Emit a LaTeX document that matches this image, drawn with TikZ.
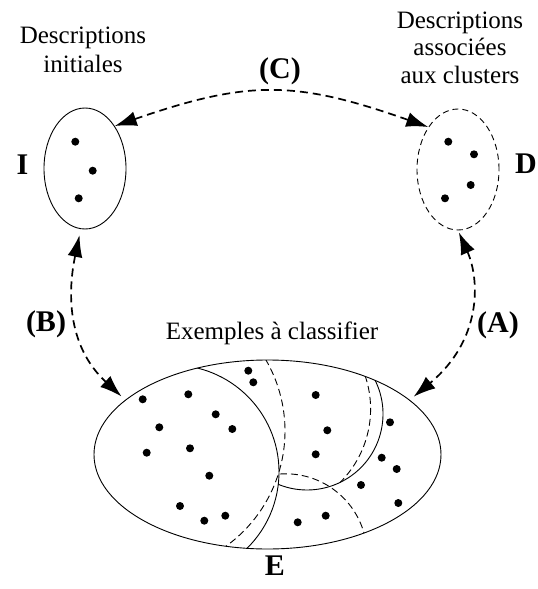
\documentclass[tikz,border=0pt]{standalone}
\usepackage{fontspec}
\setmainfont{Liberation Serif}
\usetikzlibrary{arrows.meta,shapes.geometric}
\begin{document}
\begin{tikzpicture}[x=1pt,y=-1pt,
  set/.style={draw, ellipse, line width=0.9pt, inner sep=0pt,
              minimum width=82pt, minimum height=121pt},
  dot/.style={fill=black},
  lbl/.style={font=\fontsize{25}{29}\selectfont, align=center, inner sep=0pt},
  tag/.style={font=\fontsize{30}{34}\selectfont\bfseries, inner sep=0pt},
  link/.style={line width=1.7pt, dash pattern=on 8pt off 5pt,
               {Latex[length=22pt,width=15pt]}-{Latex[length=22pt,width=15pt]}},
  part/.style={line width=0.9pt},
  partdash/.style={line width=0.9pt, dash pattern=on 7pt off 4pt},
]
\useasboundingbox (0,0) rectangle (538,589);

% the three sets
\node[set] (I) at (85,168.5) {};
\node[set, dash pattern=on 6pt off 4pt] (D) at (458,169.5) {};
\node[draw, ellipse, line width=0.9pt, inner sep=0pt,
      minimum width=347pt, minimum height=189pt] (E) at (267.5,454.5) {};

% partitions of E (solid and dashed cluster borders)
\begin{scope}
  \clip (E.center) ellipse [x radius=173.5, y radius=94.5];
  \draw[part] (172,472) ++(-85:107) arc[start angle=-85, end angle=55, radius=107];
  \draw[part] (307,414) ++(-30:76) arc[start angle=-30, end angle=112.2, radius=76];
  \draw[partdash] (143,431) ++(-35:142) arc[start angle=-35, end angle=60, radius=142];
  \draw[partdash] (267,409) ++(-25:103.6) arc[start angle=-25, end angle=45.1, radius=103.6];
  \draw[partdash] (285.6,555.3) ++(-94:81.5) arc[start angle=-94, end angle=-10, radius=81.5];
\end{scope}

% points
\foreach \p in {(75.3,141.7),(92.7,170.7),(78.7,198.3),
                (448.3,141.7),(474,154.3),(470.7,185),(445,198.3),
                (248.3,370.7),(253.3,382.3),(142.7,399.3),(188.3,394.3),
                (215.7,414.3),(159.3,427.3),(232.3,429),(146.7,452.7),
                (190,448.3),(209.3,475.7),(180,506),(204.3,520.7),(225.3,515.7),
                (315.7,395),(327.3,430.3),(315.7,454.3),(390,422.3),
                (381.7,457.7),(396.7,469),(361,485),(398.3,503),
                (297.7,522.3),(325.7,515.7)}
  \fill[dot] \p circle[radius=4];

% texts (anchored at the baseline of their last line)
\node[lbl, anchor=base] (tI) at (83,72) {Descriptions\\initiales};
\node[lbl, font=\fontsize{25}{27.5}\selectfont, anchor=base] (tD) at (460,83)
  {Descriptions\\associées\\aux clusters};
\node[lbl, anchor=base] (tE) at (272,339) {Exemples à classifier};
\node[tag] (lI) at (22.5,165) {I};
\node[tag] (lD) at (526,163.5) {D};
\node[tag] (lE) at (275,566) {E};
\node[tag] (lC) at (280,71) {(C)};
\node[tag] (lB) at (46,324) {(B)};
\node[tag] (lA) at (498,325) {(A)};

% links between the sets
\draw[link] (I.55) .. controls (248,80) and (295,80) .. (D.125);
\draw[link, shorten <=6pt, shorten >=5pt] (I.266) .. controls (68,290) and (66,345) .. (E.159);
\draw[link, shorten <=2pt, shorten >=5pt] (D.south) .. controls (480,280) and (482,340) .. (E.21);
\end{tikzpicture}
\end{document}
